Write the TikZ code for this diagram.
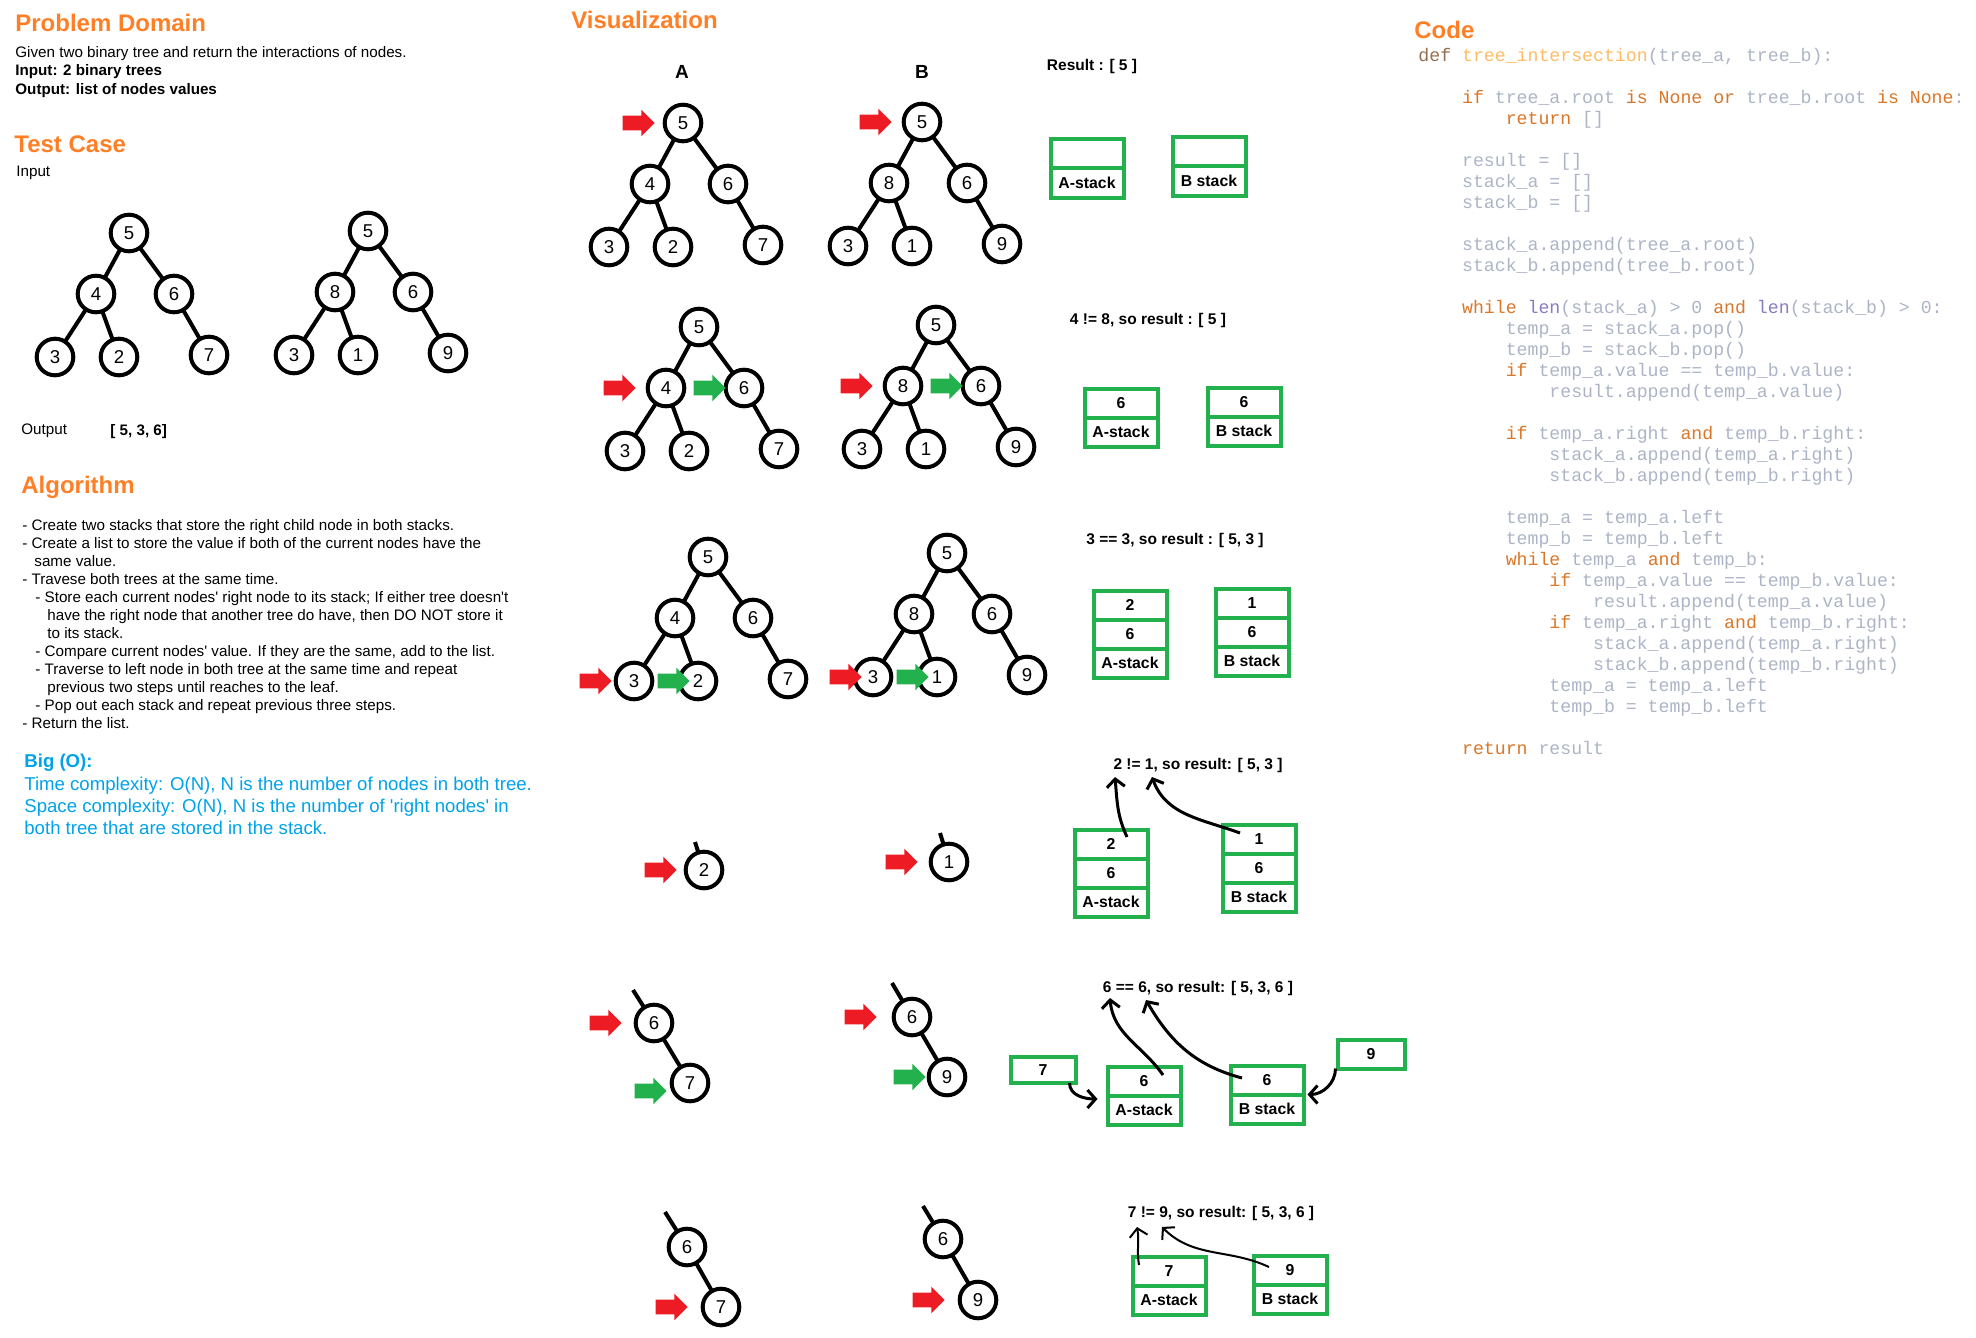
\documentclass[tikz,border=0pt]{standalone}
\usepackage{fontspec}
\setmainfont{Liberation Sans}
\setmonofont{Liberation Mono}
\usepackage{tikz}
\usetikzlibrary{positioning,shapes.arrows,arrows.meta}

\definecolor{pOrange}{RGB}{255,127,39}
\definecolor{pBlue}{RGB}{0,162,232}
\definecolor{pRed}{RGB}{237,28,36}
\definecolor{pGreen}{RGB}{34,177,76}
\definecolor{cGray}{RGB}{172,180,198}
\definecolor{cKw}{RGB}{218,118,40}
\definecolor{cDef}{RGB}{150,110,80}
\definecolor{cFn}{RGB}{255,188,100}
\definecolor{cLen}{RGB}{136,124,196}

\newcommand{\kw}[1]{\textcolor{cKw}{#1}}
\newcommand{\fn}[1]{\textcolor{cLen}{#1}}
\newcommand{\I}{\hspace*{2.4em}}

\tikzset{
  tnode/.style={circle, draw, line width=2pt, minimum size=18.3pt, inner sep=0pt, outer sep=0pt, font=\fontsize{9.3}{10}\selectfont},
  branch/.style={line width=2pt},
  ptr/.style={single arrow, minimum height=16pt, inner xsep=0pt, inner ysep=3.5pt, single arrow head extend=3pt, single arrow head indent=0pt, outer sep=0pt},
  rptr/.style={ptr, fill=pRed},
  gptr/.style={ptr, fill=pGreen},
  cell/.style={draw=pGreen, line width=2pt, minimum width=36.5pt, minimum height=14.5pt, inner sep=0pt, outer sep=0pt, font=\fontsize{7.9}{9}\selectfont\bfseries},
  heading/.style={anchor=west, inner sep=0pt, text=pOrange, font=\fontsize{12}{14}\selectfont\bfseries},
  body/.style={inner sep=0pt, align=left, font=\fontsize{7.6}{9.2}\selectfont},
  res/.style={inner sep=0pt, font=\fontsize{7.75}{9}\selectfont\bfseries},
  flow/.style={line width=1.5pt, -{Straight Barb[length=4pt,width=9pt]}},
}

\begin{document}
\begin{tikzpicture}[x=0.5pt, y=-0.5pt]
\useasboundingbox (0,0) rectangle (1976,1338);

% left column
\node[heading] (pdt) at (15,23) {Problem Domain};
\node[body, anchor=north west] (pd) at (15,46) {Given two binary tree and return the interactions of nodes.\\
\textbf{Input: 2 binary trees}\\
\textbf{Output: list of nodes values}};
\node[heading] (tct) at (14,144) {Test Case};
\node[body, anchor=west] (tin) at (16,173) {Input};
\node[body, anchor=west] (tout) at (21,431) {Output};
\node[body, anchor=west, font=\fontsize{7.6}{9.2}\selectfont\bfseries] (tval) at (110,432) {[ 5, 3, 6]};

\node[heading] (alt) at (21,487) {Algorithm};
\node[body, anchor=north west, font=\fontsize{7.6}{9}\selectfont] (alg) at (22,519) {- Create two stacks that store the right child node in both stacks.\\
- Create a list to store the value if both of the current nodes have the\\
\hspace*{6pt}same value.\\
- Travese both trees at the same time.\\
\hspace*{6.5pt}- Store each current nodes\textquotesingle{} right node to its stack; If either tree doesn\textquotesingle t\\
\hspace*{12.5pt}have the right node that another tree do have, then DO NOT store it\\
\hspace*{12.5pt}to its stack.\\
\hspace*{6.5pt}- Compare current nodes\textquotesingle{} value. If they are the same, add to the list.\\
\hspace*{6.5pt}- Traverse to left node in both tree at the same time and repeat\\
\hspace*{12.5pt}previous two steps until reaches to the leaf.\\
\hspace*{6.5pt}- Pop out each stack and repeat previous three steps.\\
- Return the list.};

\node[body, anchor=north west, text=pBlue, font=\fontsize{9.3}{11.1}\selectfont] (big) at (24,754) {\textbf{Big (O):}\\
Time complexity: O(N), N is the number of nodes in both tree.\\
Space complexity: O(N), N is the number of \textquotesingle right nodes\textquotesingle{} in\\
both tree that are stored in the stack.};

% test case and full trees
\foreach \tn/\px/\py/\nl/\nr/\nll/\nlr/\nrr in {ta/129/233/4/6/3/2/7, tb/368/231/8/6/3/1/9,
    ra1/683/123/4/6/3/2/7, rb1/922/122/8/6/3/1/9,
    ra2/699/327/4/6/3/2/7, rb2/936/325/8/6/3/1/9,
    ra3/708/557/4/6/3/2/7, rb3/947/553/8/6/3/1/9}{
  \node[tnode] (\tn-0) at (\px,\py) {5};
  \node[tnode] (\tn-1) at (\px-33,\py+61) {\nl};
  \node[tnode] (\tn-2) at (\px+45,\py+61) {\nr};
  \node[tnode] (\tn-3) at (\px-74,\py+124) {\nll};
  \node[tnode] (\tn-4) at (\px-10,\py+124) {\nlr};
  \node[tnode] (\tn-5) at (\px+80,\py+122) {\nrr};
  \draw[branch] (\tn-0) -- (\tn-1);
  \draw[branch] (\tn-0) -- (\tn-2);
  \draw[branch] (\tn-1) -- (\tn-3);
  \draw[branch] (\tn-1) -- (\tn-4);
  \draw[branch] (\tn-2) -- (\tn-5);
}

% visualization
\node[heading] (vt) at (571,20) {Visualization};
\node[font=\fontsize{9.5}{11}\selectfont\bfseries] (ha) at (682,72) {A};
\node[font=\fontsize{9.5}{11}\selectfont\bfseries] (hb) at (922,72) {B};

\node[rptr, left=5pt of ra1-0] (p1a) {};
\node[rptr, left=6pt of rb1-0] (p1b) {};
\node[rptr, left=6pt of ra2-1] (p2a) {};
\node[gptr, left=0pt of ra2-2] (g2a) {};
\node[rptr, left=6pt of rb2-1] (p2b) {};
\node[gptr, left=0pt of rb2-2] (g2b) {};
\node[rptr, left=2pt of ra3-3] (p3a) {};
\node[gptr, left=-5pt of ra3-4] (g3a) {};
\node[rptr, left=-3.5pt of rb3-3] (p3b) {};
\node[gptr, left=-5pt of rb3-4] (g3b) {};

% row 4
\node[tnode] (r4a) at (704,870) {2};
\coordinate (s4a) at (695,842);
\draw[branch] (s4a) -- (r4a);
\node[rptr, left=4.5pt of r4a] (p4a) {};
\node[tnode] (r4b) at (949,862) {1};
\coordinate (s4b) at (940,833);
\draw[branch] (s4b) -- (r4b);
\node[rptr, left=6.5pt of r4b] (p4b) {};

% row 5
\node[tnode] (r5a6) at (654,1023) {6};
\node[tnode] (r5a7) at (690,1083) {7};
\coordinate (s5a) at (633,990);
\draw[branch] (s5a) -- (r5a6);
\draw[branch] (r5a6) -- (r5a7);
\node[rptr, left=7pt of r5a6] (p5a) {};
\node[gptr, left=2.5pt of r5a7, yshift=-4pt] (g5a) {};
\node[tnode] (r5b6) at (912,1017) {6};
\node[tnode] (r5b9) at (947,1077) {9};
\coordinate (s5b) at (892,983);
\draw[branch] (s5b) -- (r5b6);
\draw[branch] (r5b6) -- (r5b9);
\node[rptr, left=8.5pt of r5b6] (p5b) {};
\node[gptr, left=1.5pt of r5b9] (g5b) {};

% row 6
\node[tnode] (r6a6) at (687,1247) {6};
\node[tnode] (r6a7) at (721,1307) {7};
\coordinate (s6a) at (665,1212);
\draw[branch] (s6a) -- (r6a6);
\draw[branch] (r6a6) -- (r6a7);
\node[rptr, left=7.5pt of r6a7] (p6a) {};
\node[tnode] (r6b6) at (943,1239) {6};
\node[tnode] (r6b9) at (978,1300) {9};
\coordinate (s6b) at (923,1206);
\draw[branch] (s6b) -- (r6b6);
\draw[branch] (r6b6) -- (r6b9);
\node[rptr, left=7.5pt of r6b9] (p6b) {};

% results
\node[res] (res1) at (1092,66) {Result : [ 5 ]};
\node[res] (res2) at (1148,320) {4 != 8, so result : [ 5 ]};
\node[res] (res3) at (1175,540) {3 == 3, so result : [ 5, 3 ]};
\node[res] (res4) at (1198,765) {2 != 1, so result: [ 5, 3 ]};
\node[res] (res5) at (1198,988) {6 == 6, so result: [ 5, 3, 6 ]};
\node[res] (res6) at (1221,1213) {7 != 9, so result: [ 5, 3, 6 ]};

% stacks
\node[cell] (sa1-0) at (1087,183) {A-stack};
\node[cell, above=0pt of sa1-0] (sa1-1) {};
\node[cell] (sb1-0) at (1209,181) {B stack};
\node[cell, above=0pt of sb1-0] (sb1-1) {};

\node[cell] (sa2-0) at (1121,432) {A-stack};
\node[cell, above=0pt of sa2-0] (sa2-1) {6};
\node[cell] (sb2-0) at (1244,431) {B stack};
\node[cell, above=0pt of sb2-0] (sb2-1) {6};

\node[cell] (sa3-0) at (1130,663) {A-stack};
\node[cell, above=0pt of sa3-0] (sa3-1) {6};
\node[cell, above=0pt of sa3-1] (sa3-2) {2};
\node[cell] (sb3-0) at (1252,661) {B stack};
\node[cell, above=0pt of sb3-0] (sb3-1) {6};
\node[cell, above=0pt of sb3-1] (sb3-2) {1};

\node[cell] (sa4-0) at (1111,902) {A-stack};
\node[cell, above=0pt of sa4-0] (sa4-1) {6};
\node[cell, above=0pt of sa4-1] (sa4-2) {2};
\node[cell] (sb4-0) at (1259,897) {B stack};
\node[cell, above=0pt of sb4-0] (sb4-1) {6};
\node[cell, above=0pt of sb4-1] (sb4-2) {1};

\node[cell] (sa5-0) at (1144,1110) {A-stack};
\node[cell, above=0pt of sa5-0] (sa5-1) {6};
\node[cell] (sb5-0) at (1267,1109) {B stack};
\node[cell, above=0pt of sb5-0] (sb5-1) {6};
\node[cell, minimum width=32.5pt, minimum height=13pt] (b7) at (1043,1070) {7};
\node[cell, minimum width=33.5pt, minimum height=14.5pt] (b9) at (1371,1054) {9};

\node[cell] (sa6-0) at (1169,1300) {A-stack};
\node[cell, above=0pt of sa6-0] (sa6-1) {7};
\node[cell] (sb6-0) at (1290,1299) {B stack};
\node[cell, above=0pt of sb6-0] (sb6-1) {9};

% pops
\coordinate (h4a) at (1115,777);
\coordinate (h4b) at (1152,777);
\draw[flow] ([xshift=8pt,yshift=3.5pt]sa4-2.center) to[out=115,in=-85] (h4a);
\draw[flow] ([xshift=-9.5pt,yshift=3pt]sb4-2.center) to[out=160,in=-70] (h4b);

\coordinate (h5a) at (1110,998);
\coordinate (h5b) at (1146,1000);
\draw[flow] ([xshift=9.5pt,yshift=3pt]sa5-1.center) to[out=125,in=-85] (h5a);
\draw[flow] ([xshift=-12.5pt,yshift=1pt]sb5-1.center) to[out=165,in=-60] (h5b);
\draw[flow] ([xshift=-3pt]b7.south east) to[out=-90,in=180] ([xshift=-5pt,yshift=5.5pt]sa5-0.west);
\draw[flow] ([xshift=-1pt]b9.south west) to[out=-90,in=0] ([xshift=2pt]sb5-0.north east);

\coordinate (h6a) at (1137,1227);
\coordinate (h6b) at (1162,1227);
\draw[flow, line width=1pt] ([xshift=-15pt,yshift=3pt]sa6-1.center) to[out=100,in=-80] (h6a);
\draw[flow, line width=1pt] ([xshift=-10.5pt,yshift=1.5pt]sb6-1.center) to[out=155,in=-45] (h6b);

% code
\node[heading] (ct) at (1414,30) {Code};
\node[anchor=north west, inner sep=0pt, align=left, text=cGray, font=\ttfamily\fontsize{9.1}{10.5}\selectfont] (src) at (1418,48) {%
\textcolor{cDef}{def} \textcolor{cFn}{tree\_intersection}(tree\_a, tree\_b):\\
~\\
\I\kw{if} tree\_a.root \kw{is} \kw{None} \kw{or} tree\_b.root \kw{is} \kw{None}:\\
\I\I\kw{return} []\\
~\\
\I result = []\\
\I stack\_a = []\\
\I stack\_b = []\\
~\\
\I stack\_a.append(tree\_a.root)\\
\I stack\_b.append(tree\_b.root)\\
~\\
\I\kw{while} \fn{len}(stack\_a) > 0 \kw{and} \fn{len}(stack\_b) > 0:\\
\I\I temp\_a = stack\_a.pop()\\
\I\I temp\_b = stack\_b.pop()\\
\I\I\kw{if} temp\_a.value == temp\_b.value:\\
\I\I\I result.append(temp\_a.value)\\
~\\
\I\I\kw{if} temp\_a.right \kw{and} temp\_b.right:\\
\I\I\I stack\_a.append(temp\_a.right)\\
\I\I\I stack\_b.append(temp\_b.right)\\
~\\
\I\I temp\_a = temp\_a.left\\
\I\I temp\_b = temp\_b.left\\
\I\I\kw{while} temp\_a \kw{and} temp\_b:\\
\I\I\I\kw{if} temp\_a.value == temp\_b.value:\\
\I\I\I\I result.append(temp\_a.value)\\
\I\I\I\kw{if} temp\_a.right \kw{and} temp\_b.right:\\
\I\I\I\I stack\_a.append(temp\_a.right)\\
\I\I\I\I stack\_b.append(temp\_b.right)\\
\I\I\I temp\_a = temp\_a.left\\
\I\I\I temp\_b = temp\_b.left\\
~\\
\I\kw{return} result};
\end{tikzpicture}
\end{document}
